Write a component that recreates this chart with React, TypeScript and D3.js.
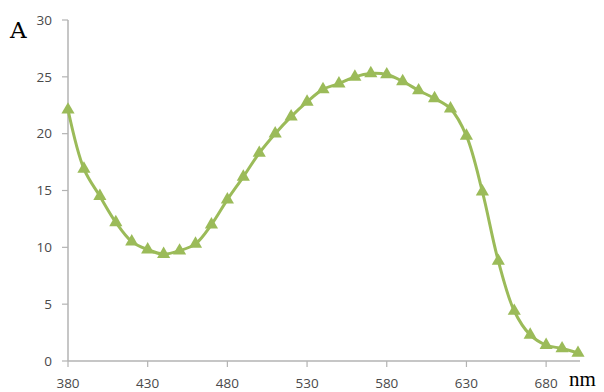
import React from "react";
import * as d3 from "d3";

const wavelengths = [380,390,400,410,420,430,440,450,460,470,480,490,500,510,520,530,540,550,560,570,580,590,600,610,620,630,640,650,660,670,680,690,700];
const absorbance = [22.1,16.9,14.5,12.2,10.5,9.8,9.4,9.7,10.3,12.0,14.2,16.2,18.3,20.0,21.5,22.8,23.9,24.4,25.0,25.3,25.2,24.6,23.8,23.1,22.2,19.8,14.9,8.8,4.4,2.3,1.4,1.1,0.7];
const xTicks = [380,430,480,530,580,630,680];
const yTicks = [0,5,10,15,20,25,30];

export default function App() {
  const W = 604, H = 392;
  const x = d3.scaleLinear().domain([380, 700]).range([68, 578]);
  const y = d3.scaleLinear().domain([0, 30]).range([361, 20]);
  const line = d3.line<number>()
    .x((_, i) => x(wavelengths[i]))
    .y((d) => y(d))
    .curve(d3.curveCatmullRom.alpha(0.5));
  const tri = d3.symbol().type(d3.symbolTriangle).size(75)();
  const green = "#9bbb59";
  const axisColor = "#b3b3b3";
  const labelColor = "#4a4a4a";
  return (
    <svg width={W} height={H} style={{ position: "absolute", left: 0, top: 0 }}>
      <rect width={W} height={H} fill="#fff" />
      <line x1={x(380)} x2={x(380)} y1={y(30)} y2={y(0)} stroke={axisColor} strokeWidth={1.5} />
      <line x1={x(380)} x2={580} y1={y(0)} y2={y(0)} stroke={axisColor} strokeWidth={1.5} />
      {yTicks.map((t) => (
        <g key={"y" + t}>
          <line x1={x(380) - 6} x2={x(380)} y1={y(t)} y2={y(t)} stroke={axisColor} strokeWidth={1.2} />
          <text x={52} y={y(t)} dy="0.35em" textAnchor="end" fontFamily="'Open Sans', sans-serif" fontSize={13.5} fill={labelColor}>{t}</text>
        </g>
      ))}
      {xTicks.map((t) => (
        <g key={"x" + t}>
          <line x1={x(t)} x2={x(t)} y1={y(0)} y2={y(0) + 6} stroke={axisColor} strokeWidth={1.2} />
          <text x={x(t)} y={388} textAnchor="middle" fontFamily="'Open Sans', sans-serif" fontSize={13.5} fill={labelColor}>{t}</text>
        </g>
      ))}
      <text x={10} y={38} fontFamily="'DejaVu Serif', 'Liberation Serif', serif" fontSize={23} fill="#000">A</text>
      <text x={569} y={386} fontFamily="'Liberation Serif', serif" fontSize={21} fill="#000">nm</text>
      <path d={line(absorbance) || ""} fill="none" stroke={green} strokeWidth={3} />
      {absorbance.map((v, i) => (
        <path key={i} d={tri || ""} transform={`translate(${x(wavelengths[i])},${y(v)})`} fill={green} />
      ))}
    </svg>
  );
}
